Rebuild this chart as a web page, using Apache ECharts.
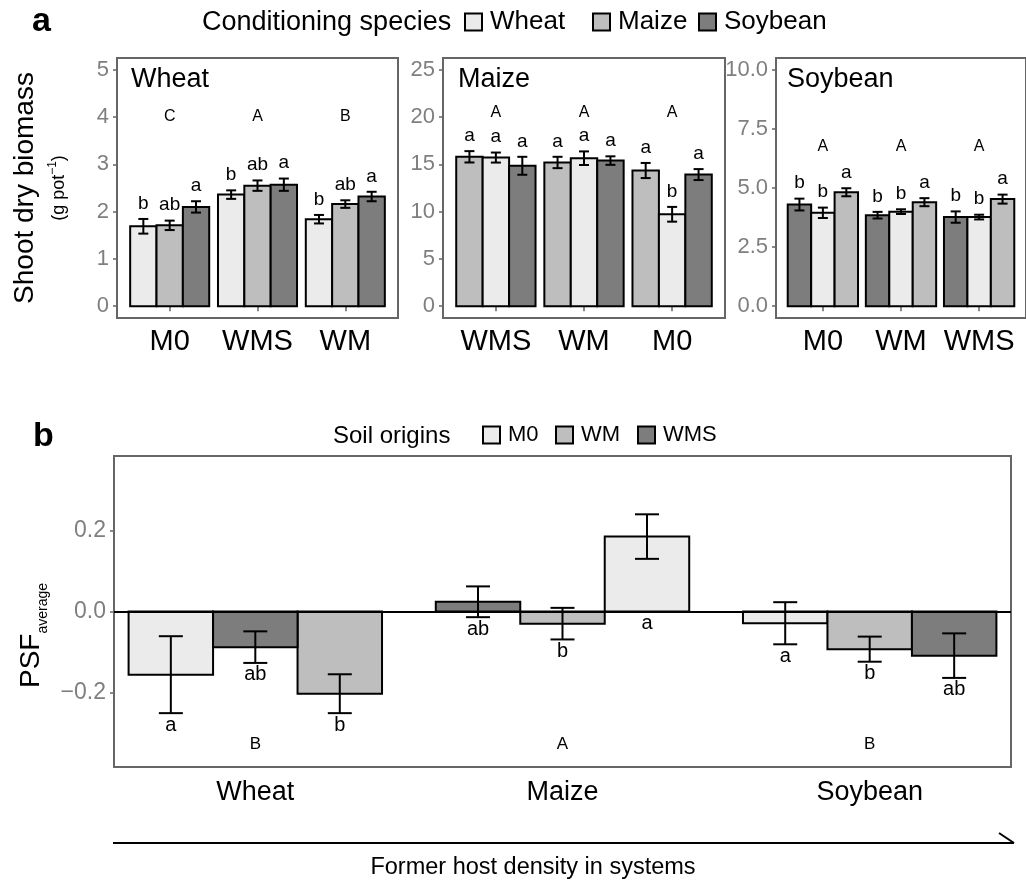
<!DOCTYPE html>
<html>
<head>
<meta charset="utf-8">
<title>Shoot dry biomass and PSF</title>
<script src="https://cdn.jsdelivr.net/npm/echarts@6/dist/echarts.min.js"></script>
<style>
  html, body { margin: 0; padding: 0; background: #fff; }
  #main { width: 1026px; height: 885px; }
</style>
</head>
<body>
<div id="main"></div>
<script>
// ---- panel a: shoot dry biomass, one facet per test species ----
var wheatOrigins = ['M0', 'WMS', 'WM'];
var maizeOrigins = ['WMS', 'WM', 'M0'];
var soyOrigins = ['M0', 'WM', 'WMS'];

// rows follow the bar order inside each facet (conspecific soil first)
var wheatPanelSpecies = ['Wheat', 'Maize', 'Soybean'];
var wheatPanelMean = [[1.69, 2.36, 1.84], [1.71, 2.55, 2.16], [2.10, 2.57, 2.32]];
var wheatPanelErr = [[0.155, 0.09, 0.09], [0.10, 0.11, 0.08], [0.12, 0.13, 0.10]];
var wheatPanelLetters = [['b', 'b', 'b'], ['ab', 'ab', 'ab'], ['a', 'a', 'a']];
var wheatGroupLetters = ['C', 'A', 'B'];

var maizePanelSpecies = ['Maize', 'Wheat', 'Soybean'];
var maizePanelMean = [[15.8, 15.2, 14.35], [15.72, 15.65, 9.72], [14.85, 15.4, 13.92]];
var maizePanelErr = [[0.6, 0.6, 0.8], [0.53, 0.72, 0.78], [0.95, 0.45, 0.58]];
var maizePanelLetters = [['a', 'a', 'a'], ['a', 'a', 'b'], ['a', 'a', 'a']];
var maizeGroupLetters = ['A', 'A', 'A'];

var soyPanelSpecies = ['Soybean', 'Wheat', 'Maize'];
var soyPanelMean = [[4.3, 3.85, 3.77], [3.95, 4.0, 3.77], [4.82, 4.4, 4.53]];
var soyPanelErr = [[0.25, 0.14, 0.24], [0.22, 0.10, 0.10], [0.17, 0.17, 0.19]];
var soyPanelLetters = [['b', 'b', 'b'], ['b', 'b', 'b'], ['a', 'a', 'a']];
var soyGroupLetters = ['A', 'A', 'A'];

var wheatTicks = [0, 1, 2, 3, 4, 5];
var maizeTicks = [0, 5, 10, 15, 20, 25];
var soyTicks = [0, 2.5, 5, 7.5, 10];

// ---- panel b: average PSF per former host ----
var psfHosts = ['Wheat', 'Maize', 'Soybean'];
var psfM0 = [-0.156, 0.185, -0.029];
var psfM0Err = [0.095, 0.055, 0.052];
var psfM0Letters = ['a', 'a', 'a'];
var psfM0Slot = [0, 2, 0];
var psfWM = [-0.203, -0.030, -0.093];
var psfWMErr = [0.048, 0.039, 0.031];
var psfWMLetters = ['b', 'b', 'b'];
var psfWMSlot = [2, 1, 1];
var psfWMS = [-0.088, 0.024, -0.109];
var psfWMSErr = [0.039, 0.038, 0.055];
var psfWMSLetters = ['ab', 'ab', 'ab'];
var psfWMSSlot = [1, 0, 2];
var psfGroupLetters = ['B', 'A', 'B'];
var psfTicks = [-0.2, 0, 0.2];

var FONT = '"Liberation Sans", Arial, Helvetica, sans-serif';
var LIGHT = '#ebebeb', MID = '#bebebe', DARK = '#7d7d7d';
var AXIS_GREY = '#7f7f7f', FRAME = '#666666';
var speciesColor = { Wheat: LIGHT, Maize: MID, Soybean: DARK };

var chart = echarts.init(document.getElementById('main'));

// bars + error bars + letters drawn through the axes of one grid
function barSeries(name, gi, color, means, errs, letters, slots, o) {
  var data = means.map(function (m, i) { return [i + 1, slots[i], m, errs[i]]; });
  return {
    type: 'custom',
    name: name,
    xAxisIndex: gi,
    yAxisIndex: gi,
    itemStyle: { color: color, borderColor: '#000', borderWidth: 2 },
    encode: { x: 0, y: 2 },
    data: data,
    z: 3,
    renderItem: function (params, api) {
      var x = api.value(0), slot = api.value(1), m = api.value(2), e = api.value(3);
      var c = x + (slot - 1) * o.barW;
      var p0 = api.coord([c - o.barW / 2, 0]);
      var p1 = api.coord([c + o.barW / 2, m]);
      var hi = api.coord([c, m + e]);
      var lo = api.coord([c, m - e]);
      var h = o.cap / 2;
      var ty, tva;
      if (o.below) { ty = Math.max(p0[1], lo[1]) + o.gap; tva = 'middle'; }
      else { ty = hi[1] - o.gap; tva = 'bottom'; }
      var ln = { stroke: '#000', lineWidth: 2 };
      return {
        type: 'group',
        children: [
          { type: 'rect', shape: { x: p0[0], y: Math.min(p0[1], p1[1]), width: p1[0] - p0[0], height: Math.abs(p1[1] - p0[1]) },
            style: { fill: color, stroke: '#000', lineWidth: 2 } },
          { type: 'line', shape: { x1: hi[0], y1: hi[1], x2: lo[0], y2: lo[1] }, style: ln },
          { type: 'line', shape: { x1: hi[0] - h, y1: hi[1], x2: hi[0] + h, y2: hi[1] }, style: ln },
          { type: 'line', shape: { x1: lo[0] - h, y1: lo[1], x2: lo[0] + h, y2: lo[1] }, style: ln },
          { type: 'text', x: hi[0], y: ty,
            style: { text: letters[params.dataIndex], textAlign: 'center', textVerticalAlign: tva, fill: '#000', font: o.fontSize + 'px ' + FONT } }
        ]
      };
    }
  };
}

function groupLetterSeries(gi, letters, level, size) {
  return {
    type: 'custom',
    xAxisIndex: gi,
    yAxisIndex: gi,
    data: letters.map(function (l, i) { return [i + 1, level]; }),
    z: 4,
    renderItem: function (params, api) {
      var p = api.coord([api.value(0), api.value(1)]);
      return { type: 'text', x: p[0], y: p[1],
        style: { text: letters[params.dataIndex], textAlign: 'center', textVerticalAlign: 'middle', fill: '#000', font: size + 'px ' + FONT } };
    }
  };
}

var A_OPTS = { barW: 0.3, cap: 10, below: false, gap: 6, fontSize: 19 };
var B_OPTS = { barW: 0.275, cap: 24, below: true, gap: 12, fontSize: 20 };

function facetSeries(gi, species, means, errs, letters, groupLetters, level) {
  var list = species.map(function (sp, k) {
    return barSeries(sp, gi, speciesColor[sp], means[k], errs[k], letters[k], [k, k, k], A_OPTS);
  });
  list.push(groupLetterSeries(gi, groupLetters, level, 16));
  return list;
}

function xAxisA(gi, names) {
  return {
    type: 'value', gridIndex: gi, min: 0.4, max: 3.6,
    axisLine: { show: false }, splitLine: { show: false },
    axisTick: { show: true, customValues: [1, 2, 3], length: 5, lineStyle: { color: FRAME, width: 1.5 } },
    axisLabel: { customValues: [1, 2, 3], color: '#000', fontSize: 29, margin: 9,
      formatter: function (v) { return names[Math.round(v) - 1]; } }
  };
}

function yAxisA(gi, min, max, ticks, digits) {
  return {
    type: 'value', gridIndex: gi, min: min, max: max,
    axisLine: { show: false }, splitLine: { show: false },
    axisTick: { show: true, customValues: ticks, length: 4, lineStyle: { color: FRAME, width: 1.5 } },
    axisLabel: { customValues: ticks, color: AXIS_GREY, fontSize: 22, margin: 8,
      formatter: function (v) { return v.toFixed(digits); } }
  };
}

function legendItem(name, left, top, size) {
  return {
    data: [name], left: left, top: top, padding: 0, icon: 'rect',
    itemWidth: 17, itemHeight: 17, selectedMode: false,
    itemStyle: { borderColor: '#000', borderWidth: 2 },
    textStyle: { fontSize: size, color: '#000', fontFamily: FONT, padding: [0, 0, 0, 3] }
  };
}

var frame = { show: true, borderColor: FRAME, borderWidth: 2, containLabel: false };

var series = []
  .concat(facetSeries(0, wheatPanelSpecies, wheatPanelMean, wheatPanelErr, wheatPanelLetters, wheatGroupLetters, 4))
  .concat(facetSeries(1, maizePanelSpecies, maizePanelMean, maizePanelErr, maizePanelLetters, maizeGroupLetters, 20.5))
  .concat(facetSeries(2, soyPanelSpecies, soyPanelMean, soyPanelErr, soyPanelLetters, soyGroupLetters, 6.75));

var m0Series = barSeries('M0', 3, LIGHT, psfM0, psfM0Err, psfM0Letters, psfM0Slot, B_OPTS);
m0Series.markLine = {
  silent: true, symbol: ['none', 'none'], label: { show: false }, animation: false,
  lineStyle: { color: '#000', width: 2, type: 'solid' },
  data: [{ yAxis: 0 }]
};
series.push(m0Series);
series.push(barSeries('WM', 3, MID, psfWM, psfWMErr, psfWMLetters, psfWMSlot, B_OPTS));
series.push(barSeries('WMS', 3, DARK, psfWMS, psfWMSErr, psfWMSLetters, psfWMSSlot, B_OPTS));
series.push(groupLetterSeries(3, psfGroupLetters, -0.327, 17));

var option = {
  backgroundColor: '#fff',
  animation: false,
  textStyle: { fontFamily: FONT },
  grid: [
    Object.assign({ left: 117, top: 58, width: 281, height: 260 }, frame),
    Object.assign({ left: 443, top: 58, width: 282, height: 260 }, frame),
    Object.assign({ left: 776, top: 58, width: 259, height: 260 }, frame),
    Object.assign({ left: 114, top: 456, width: 897, height: 311 }, frame)
  ],
  xAxis: [
    xAxisA(0, wheatOrigins),
    xAxisA(1, maizeOrigins),
    xAxisA(2, soyOrigins),
    {
      type: 'value', gridIndex: 3, min: 0.54, max: 3.46,
      axisLine: { show: false }, splitLine: { show: false },
      axisTick: { show: true, customValues: [1, 2, 3], length: 4, lineStyle: { color: FRAME, width: 1.5 } },
      axisLabel: { customValues: [1, 2, 3], color: '#000', fontSize: 27, margin: 12,
        formatter: function (v) { return psfHosts[Math.round(v) - 1]; } }
    }
  ],
  yAxis: [
    Object.assign(yAxisA(0, -0.25, 5.25, wheatTicks, 0), {
      name: '{t|Shoot dry biomass}\n{u|(g pot}{s|−1}{u|)}',
      nameLocation: 'middle', nameGap: 46, nameRotate: 90,
      nameTextStyle: {
        color: '#000',
        rich: {
          t: { fontSize: 28, lineHeight: 44, fontFamily: FONT },
          u: { fontSize: 18, lineHeight: 24, fontFamily: FONT },
          s: { fontSize: 12, lineHeight: 12, verticalAlign: 'top', fontFamily: FONT }
        }
      }
    }),
    yAxisA(1, -1.25, 26.25, maizeTicks, 0),
    yAxisA(2, -0.5, 10.5, soyTicks, 1),
    {
      type: 'value', gridIndex: 3, min: -0.384, max: 0.384,
      axisLine: { show: false }, splitLine: { show: false },
      axisTick: { show: true, customValues: psfTicks, length: 4, lineStyle: { color: FRAME, width: 1.5 } },
      axisLabel: { customValues: psfTicks, color: AXIS_GREY, fontSize: 23, margin: 8,
        formatter: function (v) { return (v < 0 ? '−' : '') + Math.abs(v).toFixed(1); } },
      name: '{p|PSF}{s|average}',
      nameLocation: 'middle', nameGap: 60, nameRotate: 90,
      nameTextStyle: {
        color: '#000',
        padding: [0, 48, 0, 0],
        rich: {
          p: { fontSize: 28, lineHeight: 36, fontFamily: FONT },
          s: { fontSize: 14, lineHeight: 14, verticalAlign: 'bottom', fontFamily: FONT }
        }
      }
    }
  ],
  legend: [
    legendItem('Wheat', 464, 9, 26),
    legendItem('Maize', 592, 9, 26),
    legendItem('Soybean', 698, 9, 26),
    legendItem('M0', 482, 424, 22),
    legendItem('WM', 555, 424, 22),
    legendItem('WMS', 637, 424, 22)
  ],
  graphic: [
    { type: 'text', x: 32, y: 22, style: { text: 'a', font: 'bold 34px ' + FONT, fill: '#000', textVerticalAlign: 'middle' } },
    { type: 'text', x: 202, y: 23, style: { text: 'Conditioning species', font: '27px ' + FONT, fill: '#000', textVerticalAlign: 'middle' } },
    { type: 'text', x: 131, y: 80, style: { text: 'Wheat', font: '27px ' + FONT, fill: '#000', textVerticalAlign: 'middle' } },
    { type: 'text', x: 458, y: 80, style: { text: 'Maize', font: '27px ' + FONT, fill: '#000', textVerticalAlign: 'middle' } },
    { type: 'text', x: 787, y: 80, style: { text: 'Soybean', font: '27px ' + FONT, fill: '#000', textVerticalAlign: 'middle' } },
    { type: 'text', x: 33, y: 437, style: { text: 'b', font: 'bold 34px ' + FONT, fill: '#000', textVerticalAlign: 'middle' } },
    { type: 'text', x: 333, y: 436, style: { text: 'Soil origins', font: '24px ' + FONT, fill: '#000', textVerticalAlign: 'middle' } },
    { type: 'line', shape: { x1: 113, y1: 843, x2: 1014, y2: 843 }, style: { stroke: '#000', lineWidth: 2 } },
    { type: 'line', shape: { x1: 999, y1: 833, x2: 1014, y2: 843 }, style: { stroke: '#000', lineWidth: 2 } },
    { type: 'text', x: 533, y: 868, style: { text: 'Former host density in systems', font: '23.5px ' + FONT, fill: '#000', textAlign: 'center', textVerticalAlign: 'middle' } }
  ],
  series: series
};

chart.setOption(option);
</script>
</body>
</html>
